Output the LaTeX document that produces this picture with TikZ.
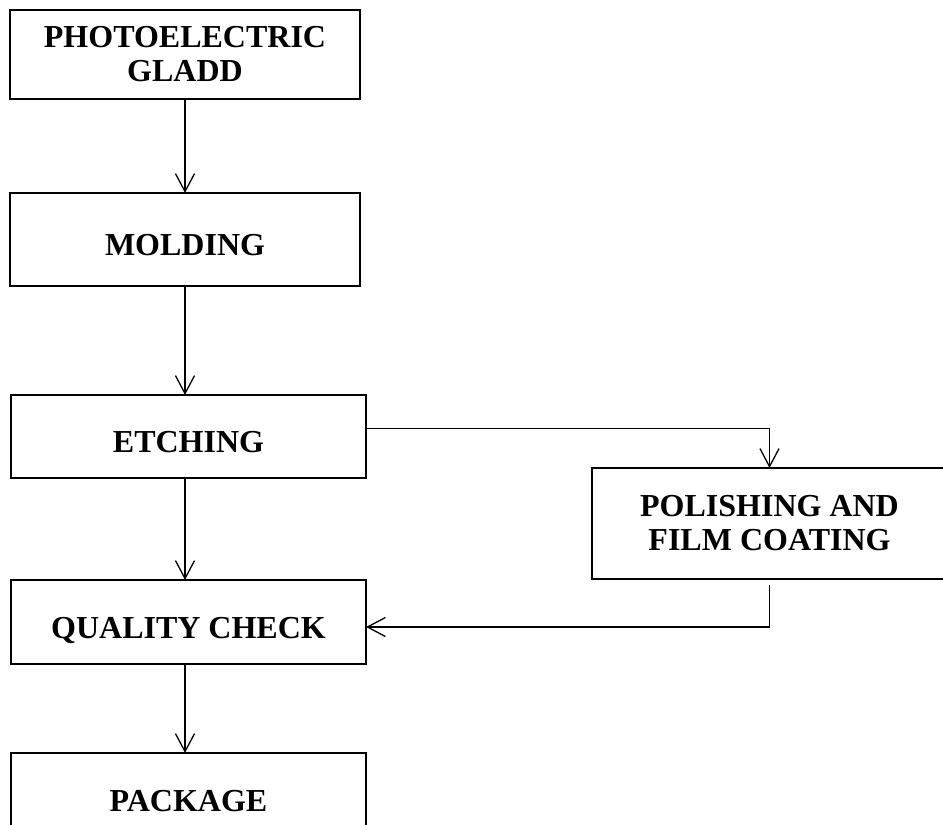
\documentclass[tikz,border=0pt]{standalone}
\usepackage{fontspec}
\setmainfont{Liberation Serif}
\usetikzlibrary{arrows.meta,positioning}

\begin{document}
\begin{tikzpicture}[x=1pt,y=-1pt]

  \tikzset{main node/.style={rectangle, draw, line width=2pt, outer sep=0pt,
  		inner sep=2pt, align=center, text centered,
  		font=\bfseries\fontsize{32}{34}\selectfont}, }
  \tikzset{main verb/.style={minimum width=355pt}, }
  \tikzset{one line/.style={text height=32pt, text depth=0pt}, }
  \tikzset{linea/.style={line width=1.3pt,
  		-{Straight Barb[length=18pt,width=19pt]}}, }

  \useasboundingbox (0,0) rectangle (943,825);
  \clip (0,0) rectangle (943,825);

    \node[main node, minimum width=350pt, minimum height=89pt] (1) at (185,54.5) {PHOTOELECTRIC\\GLADD};
    \node[main node, one line, minimum width=350pt, minimum height=93pt] (2) [below =94pt of 1] {MOLDING};
    \node[main node, one line, main verb, minimum height=83pt, xshift=3.5pt] (3) [below =109pt of 2] {ETCHING};
    \node[main node, one line, main verb, minimum height=84pt] (4) [below =102pt of 3] {QUALITY CHECK};
    \node[main node, one line, main verb, minimum height=84pt] (5) [below =89pt of 4] {PACKAGE};
    \node[main node, main verb, minimum height=111pt] (6) [below right =-10pt and 226pt of 3] {POLISHING AND\\FILM COATING};
%
\foreach \x /\y in{1/2,2/3,3/4,4/5}
  \draw[linea] (\x.south -| 1.south) -- (\y.north -| 1.south);
%
  \draw[linea] ([yshift=8pt]3.east) -| (6.north);
  \draw[linea] ([yshift=-6pt]6.south) |- ([yshift=-5pt]4.east);
%
\end{tikzpicture}
\end{document}
